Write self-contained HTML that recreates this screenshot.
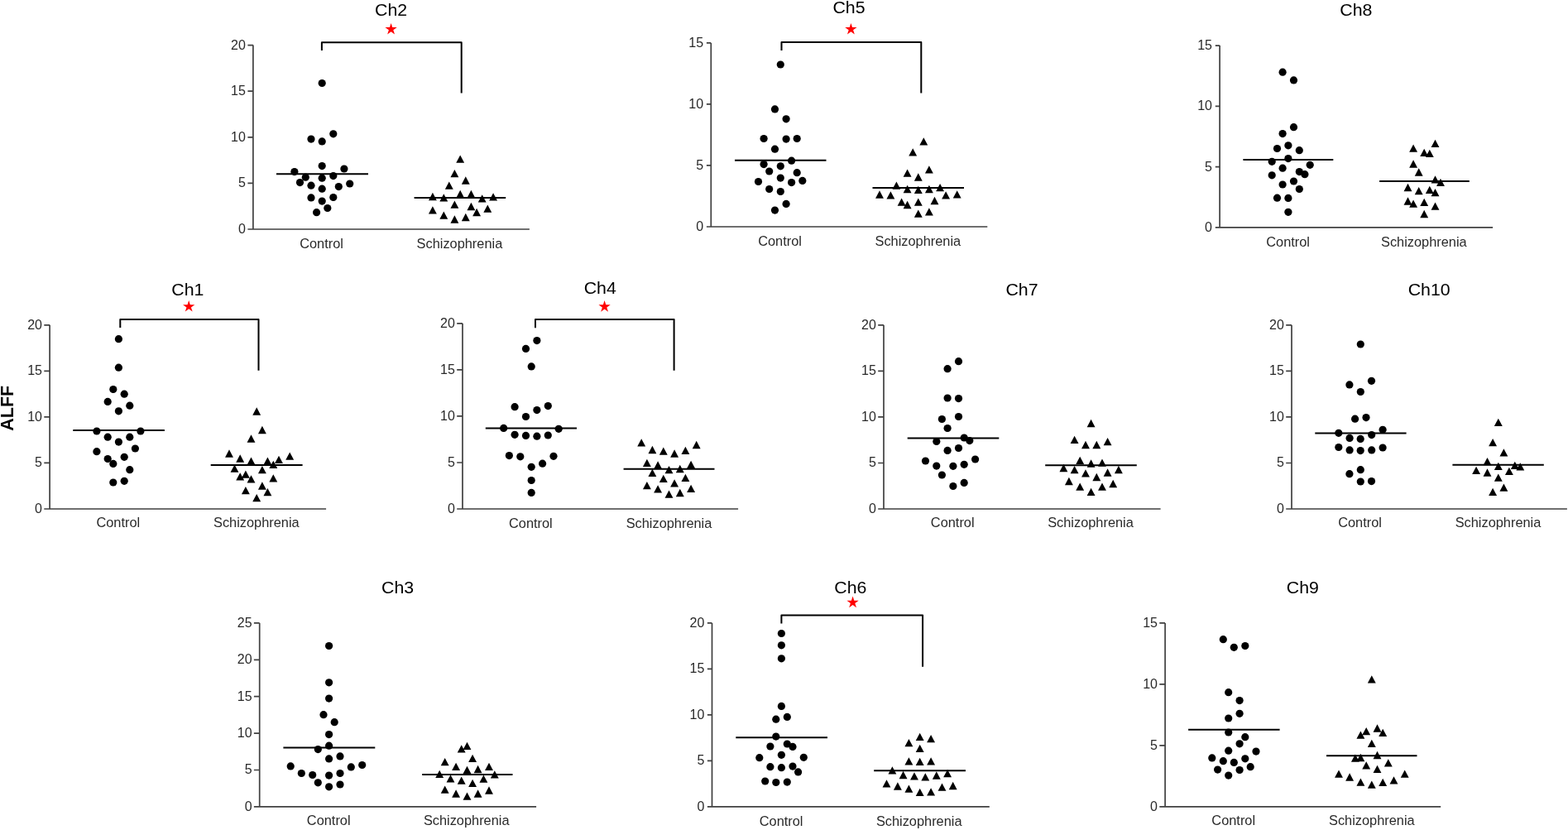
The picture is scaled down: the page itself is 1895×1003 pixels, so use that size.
<!DOCTYPE html>
<html><head><meta charset="utf-8"><title>ALFF by channel</title>
<style>
html,body{margin:0;padding:0;background:#fff;}
body{width:1895px;height:1003px;overflow:hidden;}
svg{display:block;}
text{font-family:"Liberation Sans",Arial,sans-serif;}
.tk{font-size:16.8px;fill:#2a2a2a;text-anchor:end;}
.cat{font-size:17px;fill:#2a2a2a;text-anchor:middle;}
.ti{font-size:21px;fill:#000;text-anchor:middle;}
.yl{font-size:21.5px;font-weight:bold;fill:#000;text-anchor:middle;}
</style></head><body>
<svg width="1895" height="1003" viewBox="0 0 1895 1003">
<rect width="100%" height="100%" fill="#fff"/>
<path d="M305.9 54.6 V277 M299.4 277 H639.9" fill="none" stroke="#404040" stroke-width="1.7"/>
<path d="M299.4 221.4 H305.9 M299.4 165.8 H305.9 M299.4 110.2 H305.9 M299.4 54.6 H305.9" fill="none" stroke="#404040" stroke-width="1.7"/>
<text transform="translate(296.8 281.9) scale(0.955 1)" class="tk">0</text>
<text transform="translate(296.8 226.3) scale(0.955 1)" class="tk">5</text>
<text transform="translate(296.8 170.7) scale(0.955 1)" class="tk">10</text>
<text transform="translate(296.8 115.1) scale(0.955 1)" class="tk">15</text>
<text transform="translate(296.8 59.5) scale(0.955 1)" class="tk">20</text>
<text transform="translate(388.5 299.5) scale(0.963 1)" class="cat">Control</text>
<text transform="translate(555.4 299.5) scale(0.963 1)" class="cat">Schizophrenia</text>
<text transform="translate(472.6 18.9) scale(1.015 1)" class="ti">Ch2</text>
<path d="M334 210.2 H445" stroke="#000" stroke-width="2.0"/>
<path d="M500.6 239.1 H611.2" stroke="#000" stroke-width="2.0"/>
<g fill="#000"><circle cx="389.2" cy="100.5" r="4.6"/><circle cx="376" cy="168.1" r="4.6"/><circle cx="389.2" cy="170.9" r="4.6"/><circle cx="402.8" cy="161.8" r="4.6"/><circle cx="389.2" cy="200.6" r="4.6"/><circle cx="355.9" cy="207.6" r="4.6"/><circle cx="415.9" cy="204" r="4.6"/><circle cx="369.3" cy="214.2" r="4.6"/><circle cx="389.2" cy="215.2" r="4.6"/><circle cx="402.8" cy="212.6" r="4.6"/><circle cx="362.5" cy="220.6" r="4.6"/><circle cx="376" cy="224.2" r="4.6"/><circle cx="389.2" cy="228.2" r="4.6"/><circle cx="409.3" cy="225.6" r="4.6"/><circle cx="422.7" cy="222" r="4.6"/><circle cx="376" cy="238.9" r="4.6"/><circle cx="402.8" cy="238.5" r="4.6"/><circle cx="389.2" cy="243.1" r="4.6"/><circle cx="395.8" cy="251.5" r="4.6"/><circle cx="382.6" cy="256.7" r="4.6"/></g>
<path fill="#000" d="M556.2 187.45L561.15 196.75H551.25ZM549.4 204.95L554.35 214.25H544.45ZM562.8 213.35L567.75 222.65H557.85ZM542.8 219.55L547.75 228.85H537.85ZM522.9 232.85L527.85 242.15H517.95ZM536.3 234.25L541.25 243.55H531.35ZM556.2 229.85L561.15 239.15H551.25ZM569.4 229.85L574.35 239.15H564.45ZM582.7 235.25L587.65 244.55H577.75ZM596.1 233.25L601.05 242.55H591.15ZM549.4 242.45L554.35 251.75H544.45ZM569.4 244.85L574.35 254.15H564.45ZM522.9 249.25L527.85 258.55H517.95ZM589.3 247.45L594.25 256.75H584.35ZM576.1 251.85L581.05 261.15H571.15ZM536.3 255.45L541.25 264.75H531.35ZM562.8 257.85L567.75 267.15H557.85ZM549.4 260.35L554.35 269.65H544.45Z"/>
<path d="M388.9 61 V51.2 H557.7 V112.6" fill="none" stroke="#000" stroke-width="2.0" stroke-linejoin="round"/>
<path fill="#f00" d="M472.6 27.9 L474.28 33.08 L479.73 33.08 L475.32 36.29 L477.01 41.47 L472.6 38.27 L468.19 41.47 L469.88 36.29 L465.47 33.08 L470.92 33.08 Z"/>
<path d="M859.3 51.9 V274 M853.9 274 H1193.3" fill="none" stroke="#404040" stroke-width="1.7"/>
<path d="M853.9 199.97 H859.3 M853.9 125.93 H859.3 M853.9 51.9 H859.3" fill="none" stroke="#404040" stroke-width="1.7"/>
<text transform="translate(850.2 278.9) scale(0.955 1)" class="tk">0</text>
<text transform="translate(850.2 204.87) scale(0.955 1)" class="tk">5</text>
<text transform="translate(850.2 130.83) scale(0.955 1)" class="tk">10</text>
<text transform="translate(850.2 56.8) scale(0.955 1)" class="tk">15</text>
<text transform="translate(942.5 297.3) scale(0.963 1)" class="cat">Control</text>
<text transform="translate(1109.3 297.3) scale(0.963 1)" class="cat">Schizophrenia</text>
<text transform="translate(1026 15.8) scale(1.015 1)" class="ti">Ch5</text>
<path d="M888 193.8 H998.5" stroke="#000" stroke-width="2.0"/>
<path d="M1054.5 227.1 H1165" stroke="#000" stroke-width="2.0"/>
<g fill="#000"><circle cx="943.3" cy="78" r="4.6"/><circle cx="936.5" cy="131.9" r="4.6"/><circle cx="950.1" cy="143.8" r="4.6"/><circle cx="923.1" cy="167.5" r="4.6"/><circle cx="950.1" cy="168.1" r="4.6"/><circle cx="963.2" cy="167.5" r="4.6"/><circle cx="936.5" cy="180.2" r="4.6"/><circle cx="956.6" cy="194.2" r="4.6"/><circle cx="923.1" cy="198.6" r="4.6"/><circle cx="943.3" cy="200.8" r="4.6"/><circle cx="929.7" cy="207" r="4.6"/><circle cx="963.2" cy="208.7" r="4.6"/><circle cx="943.3" cy="215.1" r="4.6"/><circle cx="916.5" cy="219.5" r="4.6"/><circle cx="956.6" cy="220.6" r="4.6"/><circle cx="969.8" cy="218.4" r="4.6"/><circle cx="929.7" cy="228.5" r="4.6"/><circle cx="943.3" cy="231.5" r="4.6"/><circle cx="950.1" cy="246.4" r="4.6"/><circle cx="936.5" cy="254.1" r="4.6"/></g>
<path fill="#000" d="M1116.3 166.15L1121.25 175.45H1111.35ZM1103.2 179.25L1108.15 188.55H1098.25ZM1096.6 204.55L1101.55 213.85H1091.65ZM1122.9 200.15L1127.85 209.45H1117.95ZM1109.8 209.35L1114.75 218.65H1104.85ZM1083.4 219.45L1088.35 228.75H1078.45ZM1096.6 223.85L1101.55 233.15H1091.65ZM1109.8 224.65L1114.75 233.95H1104.85ZM1122.9 223.85L1127.85 233.15H1117.95ZM1136.1 222.05L1141.05 231.35H1131.15ZM1063 230.35L1067.95 239.65H1058.05ZM1076.4 231.25L1081.35 240.55H1071.45ZM1143.1 231.25L1148.05 240.55H1138.15ZM1156.7 230.15L1161.65 239.45H1151.75ZM1089.6 239.55L1094.55 248.85H1084.65ZM1096.6 242.85L1101.55 252.15H1091.65ZM1109.8 239.55L1114.75 248.85H1104.85ZM1129.5 237.85L1134.45 247.15H1124.55ZM1109.8 253.45L1114.75 262.75H1104.85ZM1122.9 251.25L1127.85 260.55H1117.95Z"/>
<path d="M944.5 61 V51 H1113.3 V112.6" fill="none" stroke="#000" stroke-width="2.0" stroke-linejoin="round"/>
<path fill="#f00" d="M1028.4 27.9 L1030.08 33.08 L1035.53 33.08 L1031.12 36.29 L1032.81 41.47 L1028.4 38.27 L1023.99 41.47 L1025.68 36.29 L1021.27 33.08 L1026.72 33.08 Z"/>
<path d="M1474.1 55.1 V274.9 M1468.8 274.9 H1804.1" fill="none" stroke="#404040" stroke-width="1.7"/>
<path d="M1468.8 201.63 H1474.1 M1468.8 128.37 H1474.1 M1468.8 55.1 H1474.1" fill="none" stroke="#404040" stroke-width="1.7"/>
<text transform="translate(1465 279.8) scale(0.955 1)" class="tk">0</text>
<text transform="translate(1465 206.53) scale(0.955 1)" class="tk">5</text>
<text transform="translate(1465 133.27) scale(0.955 1)" class="tk">10</text>
<text transform="translate(1465 60) scale(0.955 1)" class="tk">15</text>
<text transform="translate(1556.6 297.5) scale(0.963 1)" class="cat">Control</text>
<text transform="translate(1720.8 297.5) scale(0.963 1)" class="cat">Schizophrenia</text>
<text transform="translate(1638.8 19.3) scale(1.015 1)" class="ti">Ch8</text>
<path d="M1502.4 192.9 H1611.3" stroke="#000" stroke-width="2.0"/>
<path d="M1667.1 219 H1775.8" stroke="#000" stroke-width="2.0"/>
<g fill="#000"><circle cx="1550.1" cy="87.2" r="4.6"/><circle cx="1563.5" cy="96.9" r="4.6"/><circle cx="1563.5" cy="153.7" r="4.6"/><circle cx="1550.1" cy="161.6" r="4.6"/><circle cx="1543.5" cy="179.5" r="4.6"/><circle cx="1556.9" cy="175.8" r="4.6"/><circle cx="1570.3" cy="181.7" r="4.6"/><circle cx="1537.2" cy="195.3" r="4.6"/><circle cx="1556.9" cy="191.6" r="4.6"/><circle cx="1583.2" cy="199.3" r="4.6"/><circle cx="1550.1" cy="203.2" r="4.6"/><circle cx="1570.3" cy="207.6" r="4.6"/><circle cx="1576.9" cy="210.7" r="4.6"/><circle cx="1537.2" cy="211.8" r="4.6"/><circle cx="1550.1" cy="223" r="4.6"/><circle cx="1563.5" cy="219" r="4.6"/><circle cx="1570.3" cy="228.5" r="4.6"/><circle cx="1543.5" cy="239.2" r="4.6"/><circle cx="1556.9" cy="239.4" r="4.6"/><circle cx="1556.9" cy="256.3" r="4.6"/></g>
<path fill="#000" d="M1734.5 168.65L1739.45 177.95H1729.55ZM1708.1 174.55L1713.05 183.85H1703.15ZM1721.2 179.75L1726.15 189.05H1716.25ZM1727.8 180.65L1732.75 189.95H1722.85ZM1708.1 193.35L1713.05 202.65H1703.15ZM1714.7 203.35L1719.65 212.65H1709.75ZM1734.5 212.15L1739.45 221.45H1729.55ZM1741 215.65L1745.95 224.95H1736.05ZM1701.5 221.85L1706.45 231.15H1696.55ZM1714.7 225.95L1719.65 235.25H1709.75ZM1727.8 224.65L1732.75 233.95H1722.85ZM1734.5 227.95L1739.45 237.25H1729.55ZM1701.5 238.35L1706.45 247.65H1696.55ZM1708.1 241.55L1713.05 250.85H1703.15ZM1721.2 239.65L1726.15 248.95H1716.25ZM1734.5 244.55L1739.45 253.85H1729.55ZM1721.2 253.85L1726.15 263.15H1716.25Z"/>
<path d="M60.1 392.8 V615 M53.3 615 H394.1" fill="none" stroke="#404040" stroke-width="1.7"/>
<path d="M53.3 559.45 H60.1 M53.3 503.9 H60.1 M53.3 448.35 H60.1 M53.3 392.8 H60.1" fill="none" stroke="#404040" stroke-width="1.7"/>
<text transform="translate(51 619.9) scale(0.955 1)" class="tk">0</text>
<text transform="translate(51 564.35) scale(0.955 1)" class="tk">5</text>
<text transform="translate(51 508.8) scale(0.955 1)" class="tk">10</text>
<text transform="translate(51 453.25) scale(0.955 1)" class="tk">15</text>
<text transform="translate(51 397.7) scale(0.955 1)" class="tk">20</text>
<text transform="translate(142.8 637.4) scale(0.963 1)" class="cat">Control</text>
<text transform="translate(309.8 637.4) scale(0.963 1)" class="cat">Schizophrenia</text>
<text transform="translate(226.8 356.8) scale(1.015 1)" class="ti">Ch1</text>
<path d="M88.3 519.9 H198.9" stroke="#000" stroke-width="2.0"/>
<path d="M254.7 561.9 H365.6" stroke="#000" stroke-width="2.0"/>
<g fill="#000"><circle cx="143.4" cy="409.7" r="4.6"/><circle cx="143.4" cy="444.2" r="4.6"/><circle cx="136.8" cy="470.5" r="4.6"/><circle cx="150.2" cy="476.2" r="4.6"/><circle cx="130.2" cy="485.4" r="4.6"/><circle cx="156.8" cy="490.2" r="4.6"/><circle cx="143.4" cy="496.8" r="4.6"/><circle cx="116.9" cy="521" r="4.6"/><circle cx="169.9" cy="521" r="4.6"/><circle cx="130.2" cy="528.2" r="4.6"/><circle cx="156.8" cy="528.2" r="4.6"/><circle cx="143.4" cy="534.1" r="4.6"/><circle cx="163.4" cy="542" r="4.6"/><circle cx="116.9" cy="545.7" r="4.6"/><circle cx="130.2" cy="554.5" r="4.6"/><circle cx="150.2" cy="552.3" r="4.6"/><circle cx="136.8" cy="560.4" r="4.6"/><circle cx="156.8" cy="567.7" r="4.6"/><circle cx="136.8" cy="583" r="4.6"/><circle cx="150.2" cy="581.3" r="4.6"/></g>
<path fill="#000" d="M310.2 492.35L315.15 501.65H305.25ZM316.9 514.85L321.85 524.15H311.95ZM303.5 525.35L308.45 534.65H298.55ZM277 543.35L281.95 552.65H272.05ZM290.2 549.35L295.15 558.65H285.25ZM303.5 552.55L308.45 561.85H298.55ZM323.4 552.55L328.35 561.85H318.45ZM337 550.65L341.95 559.95H332.05ZM350.2 546.55L355.15 555.85H345.25ZM330.3 556.65L335.25 565.95H325.35ZM283.5 561.45L288.45 570.75H278.55ZM316.9 562.95L321.85 572.25H311.95ZM296.9 568.55L301.85 577.85H291.95ZM290.2 571.25L295.15 580.55H285.25ZM303.5 574.15L308.45 583.45H298.55ZM330.3 573.25L335.25 582.55H325.35ZM316.9 582.35L321.85 591.65H311.95ZM296.9 588.05L301.85 597.35H291.95ZM323.4 590.05L328.35 599.35H318.45ZM310.2 597.05L315.15 606.35H305.25Z"/>
<path d="M145.3 396.1 V386.1 H312.5 V447.7" fill="none" stroke="#000" stroke-width="2.0" stroke-linejoin="round"/>
<path fill="#f00" d="M228.2 363 L229.88 368.18 L235.33 368.18 L230.92 371.39 L232.61 376.57 L228.2 373.37 L223.79 376.57 L225.48 371.39 L221.07 368.18 L226.52 368.18 Z"/>
<path d="M559 390.9 V615 M552.2 615 H892.1" fill="none" stroke="#404040" stroke-width="1.7"/>
<path d="M552.2 558.98 H559 M552.2 502.95 H559 M552.2 446.92 H559 M552.2 390.9 H559" fill="none" stroke="#404040" stroke-width="1.7"/>
<text transform="translate(549.9 619.9) scale(0.955 1)" class="tk">0</text>
<text transform="translate(549.9 563.88) scale(0.955 1)" class="tk">5</text>
<text transform="translate(549.9 507.85) scale(0.955 1)" class="tk">10</text>
<text transform="translate(549.9 451.82) scale(0.955 1)" class="tk">15</text>
<text transform="translate(549.9 395.8) scale(0.955 1)" class="tk">20</text>
<text transform="translate(641.4 638.3) scale(0.963 1)" class="cat">Control</text>
<text transform="translate(808.5 638.3) scale(0.963 1)" class="cat">Schizophrenia</text>
<text transform="translate(725.25 354.9) scale(1.015 1)" class="ti">Ch4</text>
<path d="M586.8 517.6 H697" stroke="#000" stroke-width="2.0"/>
<path d="M753.6 566.7 H863.5" stroke="#000" stroke-width="2.0"/>
<g fill="#000"><circle cx="648.9" cy="411.6" r="4.6"/><circle cx="635.5" cy="421.4" r="4.6"/><circle cx="642.2" cy="442.9" r="4.6"/><circle cx="622.1" cy="491.7" r="4.6"/><circle cx="648.9" cy="495.6" r="4.6"/><circle cx="662.3" cy="490.6" r="4.6"/><circle cx="635.5" cy="503.5" r="4.6"/><circle cx="608.7" cy="517.4" r="4.6"/><circle cx="675.2" cy="518.3" r="4.6"/><circle cx="622.1" cy="525.3" r="4.6"/><circle cx="635.5" cy="526.4" r="4.6"/><circle cx="648.9" cy="527.2" r="4.6"/><circle cx="662.3" cy="526" r="4.6"/><circle cx="615.4" cy="550.6" r="4.6"/><circle cx="628.8" cy="551.8" r="4.6"/><circle cx="642.2" cy="564.3" r="4.6"/><circle cx="655.6" cy="560.2" r="4.6"/><circle cx="669" cy="551.3" r="4.6"/><circle cx="642.2" cy="580.5" r="4.6"/><circle cx="642.2" cy="595.4" r="4.6"/></g>
<path fill="#000" d="M775.2 530.15L780.15 539.45H770.25ZM788.4 538.85L793.35 548.15H783.45ZM801.8 540.45L806.75 549.75H796.85ZM815.1 543.35L820.05 552.65H810.15ZM828.4 539.75L833.35 549.05H823.45ZM841.7 532.85L846.65 542.15H836.75ZM781.9 554.65L786.85 563.95H776.95ZM795.1 557.35L800.05 566.65H790.15ZM835.1 556.75L840.05 566.05H830.15ZM808.5 562.95L813.45 572.25H803.55ZM821.8 561.85L826.75 571.15H816.85ZM788.4 566.65L793.35 575.95H783.45ZM801.8 573.65L806.75 582.95H796.85ZM828.4 572.75L833.35 582.05H823.45ZM815.1 579.25L820.05 588.55H810.15ZM781.9 581.95L786.85 591.25H776.95ZM795.1 586.25L800.05 595.55H790.15ZM835.1 585.75L840.05 595.05H830.15ZM808.5 592.55L813.45 601.85H803.55ZM821.8 590.85L826.75 600.15H816.85Z"/>
<path d="M647 396.3 V386.1 H814.6 V447.7" fill="none" stroke="#000" stroke-width="2.0" stroke-linejoin="round"/>
<path fill="#f00" d="M730.6 363.1 L732.28 368.28 L737.73 368.28 L733.32 371.49 L735.01 376.67 L730.6 373.47 L726.19 376.67 L727.88 371.49 L723.47 368.28 L728.92 368.28 Z"/>
<path d="M1068 392.9 V615 M1061.2 615 H1402.6" fill="none" stroke="#404040" stroke-width="1.7"/>
<path d="M1061.2 559.48 H1068 M1061.2 503.95 H1068 M1061.2 448.42 H1068 M1061.2 392.9 H1068" fill="none" stroke="#404040" stroke-width="1.7"/>
<text transform="translate(1058.9 619.9) scale(0.955 1)" class="tk">0</text>
<text transform="translate(1058.9 564.38) scale(0.955 1)" class="tk">5</text>
<text transform="translate(1058.9 508.85) scale(0.955 1)" class="tk">10</text>
<text transform="translate(1058.9 453.32) scale(0.955 1)" class="tk">15</text>
<text transform="translate(1058.9 397.8) scale(0.955 1)" class="tk">20</text>
<text transform="translate(1151.2 637.4) scale(0.963 1)" class="cat">Control</text>
<text transform="translate(1318 637.4) scale(0.963 1)" class="cat">Schizophrenia</text>
<text transform="translate(1235 356.5) scale(1.015 1)" class="ti">Ch7</text>
<path d="M1096.7 529.5 H1207.3" stroke="#000" stroke-width="2.0"/>
<path d="M1263.2 562.2 H1373.8" stroke="#000" stroke-width="2.0"/>
<g fill="#000"><circle cx="1158.5" cy="436.7" r="4.6"/><circle cx="1145.1" cy="445.7" r="4.6"/><circle cx="1145.1" cy="481" r="4.6"/><circle cx="1158.5" cy="481.6" r="4.6"/><circle cx="1138.4" cy="506.5" r="4.6"/><circle cx="1158.5" cy="503.5" r="4.6"/><circle cx="1145.1" cy="517.5" r="4.6"/><circle cx="1165.2" cy="529" r="4.6"/><circle cx="1171.8" cy="532.6" r="4.6"/><circle cx="1131.8" cy="533.5" r="4.6"/><circle cx="1145.1" cy="544.4" r="4.6"/><circle cx="1158.5" cy="541.5" r="4.6"/><circle cx="1118.5" cy="557" r="4.6"/><circle cx="1131.8" cy="563.1" r="4.6"/><circle cx="1151.9" cy="563.3" r="4.6"/><circle cx="1165.2" cy="561.3" r="4.6"/><circle cx="1178.6" cy="555" r="4.6"/><circle cx="1138.4" cy="574" r="4.6"/><circle cx="1151.9" cy="587.5" r="4.6"/><circle cx="1165.2" cy="583.4" r="4.6"/></g>
<path fill="#000" d="M1318.6 506.85L1323.55 516.15H1313.65ZM1298.6 526.65L1303.55 535.95H1293.65ZM1312 532.85L1316.95 542.15H1307.05ZM1325.3 532.85L1330.25 542.15H1320.35ZM1338.6 529.05L1343.55 538.35H1333.65ZM1305.2 551.65L1310.15 560.95H1300.25ZM1318.6 555.35L1323.55 564.65H1313.65ZM1332 554.55L1336.95 563.85H1327.05ZM1285.4 560.85L1290.35 570.15H1280.45ZM1298.6 563.05L1303.55 572.35H1293.65ZM1312 567.15L1316.95 576.45H1307.05ZM1338.6 566.35L1343.55 575.65H1333.65ZM1351.9 562.85L1356.85 572.15H1346.95ZM1325.3 571.85L1330.25 581.15H1320.35ZM1291.9 576.85L1296.85 586.15H1286.95ZM1305.2 583.45L1310.15 592.75H1300.25ZM1332 583.45L1336.95 592.75H1327.05ZM1345.2 579.85L1350.15 589.15H1340.25ZM1318.6 589.65L1323.55 598.95H1313.65Z"/>
<path d="M1561 392.9 V615 M1554.2 615 H1893.9" fill="none" stroke="#404040" stroke-width="1.7"/>
<path d="M1554.2 559.48 H1561 M1554.2 503.95 H1561 M1554.2 448.42 H1561 M1554.2 392.9 H1561" fill="none" stroke="#404040" stroke-width="1.7"/>
<text transform="translate(1551.9 619.9) scale(0.955 1)" class="tk">0</text>
<text transform="translate(1551.9 564.38) scale(0.955 1)" class="tk">5</text>
<text transform="translate(1551.9 508.85) scale(0.955 1)" class="tk">10</text>
<text transform="translate(1551.9 453.32) scale(0.955 1)" class="tk">15</text>
<text transform="translate(1551.9 397.8) scale(0.955 1)" class="tk">20</text>
<text transform="translate(1643.5 637.4) scale(0.963 1)" class="cat">Control</text>
<text transform="translate(1810.5 637.4) scale(0.963 1)" class="cat">Schizophrenia</text>
<text transform="translate(1727.15 356.5) scale(1.015 1)" class="ti">Ch10</text>
<path d="M1589.3 523.5 H1699.6" stroke="#000" stroke-width="2.0"/>
<path d="M1755.4 561.8 H1865.8" stroke="#000" stroke-width="2.0"/>
<g fill="#000"><circle cx="1644.3" cy="416" r="4.6"/><circle cx="1630.9" cy="464.9" r="4.6"/><circle cx="1657.5" cy="460.3" r="4.6"/><circle cx="1644.3" cy="473.5" r="4.6"/><circle cx="1637.6" cy="506.2" r="4.6"/><circle cx="1651" cy="504.6" r="4.6"/><circle cx="1617.8" cy="523.3" r="4.6"/><circle cx="1671.1" cy="519.3" r="4.6"/><circle cx="1631.1" cy="529.4" r="4.6"/><circle cx="1644.2" cy="530.4" r="4.6"/><circle cx="1657.7" cy="525.6" r="4.6"/><circle cx="1617.8" cy="540.5" r="4.6"/><circle cx="1631.1" cy="543.9" r="4.6"/><circle cx="1644.2" cy="544.6" r="4.6"/><circle cx="1657.7" cy="543.9" r="4.6"/><circle cx="1671.1" cy="541" r="4.6"/><circle cx="1630.9" cy="572.7" r="4.6"/><circle cx="1644.3" cy="567.7" r="4.6"/><circle cx="1644.3" cy="582" r="4.6"/><circle cx="1657.5" cy="581.6" r="4.6"/></g>
<path fill="#000" d="M1810.8 505.65L1815.75 514.95H1805.85ZM1804.1 529.95L1809.05 539.25H1799.15ZM1817.4 542.15L1822.35 551.45H1812.45ZM1797.5 552.95L1802.45 562.25H1792.55ZM1810.8 558.65L1815.75 567.95H1805.85ZM1830.8 557.75L1835.75 567.05H1825.85ZM1837.3 559.25L1842.25 568.55H1832.35ZM1784.1 563.75L1789.05 573.05H1779.15ZM1797.5 566.35L1802.45 575.65H1792.55ZM1823.9 564.65L1828.85 573.95H1818.95ZM1810.8 572.45L1815.75 581.75H1805.85ZM1817.4 584.45L1822.35 593.75H1812.45ZM1804.1 589.65L1809.05 598.95H1799.15Z"/>
<path d="M313.7 752.9 V974.9 M306.9 974.9 H648.1" fill="none" stroke="#404040" stroke-width="1.7"/>
<path d="M306.9 930.5 H313.7 M306.9 886.1 H313.7 M306.9 841.7 H313.7 M306.9 797.3 H313.7 M306.9 752.9 H313.7" fill="none" stroke="#404040" stroke-width="1.7"/>
<text transform="translate(304.6 979.8) scale(0.955 1)" class="tk">0</text>
<text transform="translate(304.6 935.4) scale(0.955 1)" class="tk">5</text>
<text transform="translate(304.6 891) scale(0.955 1)" class="tk">10</text>
<text transform="translate(304.6 846.6) scale(0.955 1)" class="tk">15</text>
<text transform="translate(304.6 802.2) scale(0.955 1)" class="tk">20</text>
<text transform="translate(304.6 757.8) scale(0.955 1)" class="tk">25</text>
<text transform="translate(397.2 997.2) scale(0.963 1)" class="cat">Control</text>
<text transform="translate(563.7 997.2) scale(0.963 1)" class="cat">Schizophrenia</text>
<text transform="translate(480.6 716.5) scale(1.015 1)" class="ti">Ch3</text>
<path d="M342.4 903.6 H453.3" stroke="#000" stroke-width="2.0"/>
<path d="M510.2 936 H619.5" stroke="#000" stroke-width="2.0"/>
<g fill="#000"><circle cx="397.6" cy="780.5" r="4.6"/><circle cx="397.6" cy="824.8" r="4.6"/><circle cx="397.6" cy="844.1" r="4.6"/><circle cx="391" cy="863.7" r="4.6"/><circle cx="404.2" cy="872.7" r="4.6"/><circle cx="397.6" cy="887.6" r="4.6"/><circle cx="397.6" cy="901.2" r="4.6"/><circle cx="384.3" cy="905.6" r="4.6"/><circle cx="397.6" cy="916.9" r="4.6"/><circle cx="411" cy="913.9" r="4.6"/><circle cx="351.2" cy="925.9" r="4.6"/><circle cx="364.3" cy="934.5" r="4.6"/><circle cx="377.7" cy="936.5" r="4.6"/><circle cx="397.6" cy="937.1" r="4.6"/><circle cx="411" cy="934.5" r="4.6"/><circle cx="424.3" cy="926.9" r="4.6"/><circle cx="437.7" cy="924.5" r="4.6"/><circle cx="384.3" cy="945.8" r="4.6"/><circle cx="397.6" cy="950.8" r="4.6"/><circle cx="411" cy="948" r="4.6"/></g>
<path fill="#000" d="M564.5 896.75L569.45 906.05H559.55ZM557.7 900.15L562.65 909.45H552.75ZM571.1 911.65L576.05 920.95H566.15ZM537.7 915.95L542.65 925.25H532.75ZM551.1 921.65L556.05 930.95H546.15ZM564.5 925.65L569.45 934.95H559.55ZM577.6 924.85L582.55 934.15H572.65ZM591 921.65L595.95 930.95H586.05ZM531.2 930.65L536.15 939.95H526.25ZM597.8 931.25L602.75 940.55H592.85ZM544.5 936.15L549.45 945.45H539.55ZM557.7 938.45L562.65 947.75H552.75ZM571.1 941.65L576.05 950.95H566.15ZM584.4 936.45L589.35 945.75H579.45ZM537.7 949.55L542.65 958.85H532.75ZM551.1 954.35L556.05 963.65H546.15ZM564.5 957.55L569.45 966.85H559.55ZM577.6 954.35L582.55 963.65H572.65ZM591 950.35L595.95 959.65H586.05Z"/>
<path d="M860.5 752.9 V974.9 M854.9 974.9 H1195.8" fill="none" stroke="#404040" stroke-width="1.7"/>
<path d="M854.9 919.4 H860.5 M854.9 863.9 H860.5 M854.9 808.4 H860.5 M854.9 752.9 H860.5" fill="none" stroke="#404040" stroke-width="1.7"/>
<text transform="translate(851.4 979.8) scale(0.955 1)" class="tk">0</text>
<text transform="translate(851.4 924.3) scale(0.955 1)" class="tk">5</text>
<text transform="translate(851.4 868.8) scale(0.955 1)" class="tk">10</text>
<text transform="translate(851.4 813.3) scale(0.955 1)" class="tk">15</text>
<text transform="translate(851.4 757.8) scale(0.955 1)" class="tk">20</text>
<text transform="translate(944.1 998.1) scale(0.963 1)" class="cat">Control</text>
<text transform="translate(1110.7 998.1) scale(0.963 1)" class="cat">Schizophrenia</text>
<text transform="translate(1027.85 716.8) scale(1.015 1)" class="ti">Ch6</text>
<path d="M889.3 891.2 H1000" stroke="#000" stroke-width="2.0"/>
<path d="M1056.2 931.3 H1167" stroke="#000" stroke-width="2.0"/>
<g fill="#000"><circle cx="944.4" cy="765.5" r="4.6"/><circle cx="944.4" cy="779.8" r="4.6"/><circle cx="944.4" cy="795.8" r="4.6"/><circle cx="944.4" cy="853.4" r="4.6"/><circle cx="937.8" cy="869.2" r="4.6"/><circle cx="951.3" cy="866.4" r="4.6"/><circle cx="937.8" cy="890.1" r="4.6"/><circle cx="930.9" cy="902" r="4.6"/><circle cx="951.3" cy="899" r="4.6"/><circle cx="958" cy="902.4" r="4.6"/><circle cx="917.8" cy="915.7" r="4.6"/><circle cx="944.4" cy="912.3" r="4.6"/><circle cx="971.3" cy="915.3" r="4.6"/><circle cx="930.9" cy="926.7" r="4.6"/><circle cx="944.4" cy="927.7" r="4.6"/><circle cx="958" cy="926.1" r="4.6"/><circle cx="964.6" cy="932.9" r="4.6"/><circle cx="924.7" cy="944" r="4.6"/><circle cx="937.8" cy="945.5" r="4.6"/><circle cx="951.3" cy="945.1" r="4.6"/></g>
<path fill="#000" d="M1111.7 885.65L1116.65 894.95H1106.75ZM1125.1 888.05L1130.05 897.35H1120.15ZM1098.4 893.05L1103.35 902.35H1093.45ZM1111.7 899.75L1116.65 909.05H1106.75ZM1098.4 915.25L1103.35 924.55H1093.45ZM1111.7 915.75L1116.65 925.05H1106.75ZM1125.1 915.25L1130.05 924.55H1120.15ZM1078.4 926.25L1083.35 935.55H1073.45ZM1091.6 931.85L1096.55 941.15H1086.65ZM1105 933.25L1109.95 942.55H1100.05ZM1118.3 934.15L1123.25 943.45H1113.35ZM1131.8 932.35L1136.75 941.65H1126.85ZM1145.1 930.05L1150.05 939.35H1140.15ZM1071.5 942.15L1076.45 951.45H1066.55ZM1084.9 945.35L1089.85 954.65H1079.95ZM1098.4 948.45L1103.35 957.75H1093.45ZM1111.7 952.65L1116.65 961.95H1106.75ZM1125.1 952.25L1130.05 961.55H1120.15ZM1138.5 946.45L1143.45 955.75H1133.55ZM1151.7 944.85L1156.65 954.15H1146.75Z"/>
<path d="M944.4 753.4 V743.6 H1115.1 V805.8" fill="none" stroke="#000" stroke-width="2.0" stroke-linejoin="round"/>
<path fill="#f00" d="M1030.6 720.6 L1032.28 725.78 L1037.73 725.78 L1033.32 728.99 L1035.01 734.17 L1030.6 730.97 L1026.19 734.17 L1027.88 728.99 L1023.47 725.78 L1028.92 725.78 Z"/>
<path d="M1408.1 752.9 V974.9 M1401.3 974.9 H1741.2" fill="none" stroke="#404040" stroke-width="1.7"/>
<path d="M1401.3 900.9 H1408.1 M1401.3 826.9 H1408.1 M1401.3 752.9 H1408.1" fill="none" stroke="#404040" stroke-width="1.7"/>
<text transform="translate(1399 979.8) scale(0.955 1)" class="tk">0</text>
<text transform="translate(1399 905.8) scale(0.955 1)" class="tk">5</text>
<text transform="translate(1399 831.8) scale(0.955 1)" class="tk">10</text>
<text transform="translate(1399 757.8) scale(0.955 1)" class="tk">15</text>
<text transform="translate(1490.7 997.2) scale(0.963 1)" class="cat">Control</text>
<text transform="translate(1657.8 997.2) scale(0.963 1)" class="cat">Schizophrenia</text>
<text transform="translate(1574.35 716.5) scale(1.015 1)" class="ti">Ch9</text>
<path d="M1436.1 881.8 H1546.6" stroke="#000" stroke-width="2.0"/>
<path d="M1603 913.2 H1712.5" stroke="#000" stroke-width="2.0"/>
<g fill="#000"><circle cx="1478.3" cy="772.7" r="4.6"/><circle cx="1491.3" cy="782.3" r="4.6"/><circle cx="1504.8" cy="780.5" r="4.6"/><circle cx="1484.7" cy="836.7" r="4.6"/><circle cx="1498.1" cy="846.6" r="4.6"/><circle cx="1498.1" cy="862.3" r="4.6"/><circle cx="1484.7" cy="868" r="4.6"/><circle cx="1484.7" cy="885" r="4.6"/><circle cx="1504.8" cy="890.7" r="4.6"/><circle cx="1498.1" cy="898.8" r="4.6"/><circle cx="1484.7" cy="907.2" r="4.6"/><circle cx="1518" cy="908.1" r="4.6"/><circle cx="1464.8" cy="915.9" r="4.6"/><circle cx="1478.3" cy="919.7" r="4.6"/><circle cx="1491.3" cy="921.4" r="4.6"/><circle cx="1504.8" cy="916.8" r="4.6"/><circle cx="1511.2" cy="926.7" r="4.6"/><circle cx="1471.6" cy="930.1" r="4.6"/><circle cx="1498.1" cy="930.5" r="4.6"/><circle cx="1484.7" cy="937.1" r="4.6"/></g>
<path fill="#000" d="M1657.8 816.15L1662.75 825.45H1652.85ZM1651.2 878.95L1656.15 888.25H1646.25ZM1664.5 875.35L1669.45 884.65H1659.55ZM1644.4 883.45L1649.35 892.75H1639.45ZM1671.2 880.65L1676.15 889.95H1666.25ZM1657.8 893.65L1662.75 902.95H1652.85ZM1637.9 911.55L1642.85 920.85H1632.95ZM1644.4 910.85L1649.35 920.15H1639.45ZM1664.5 907.85L1669.45 917.15H1659.55ZM1651.2 920.25L1656.15 929.55H1646.25ZM1677.8 917.25L1682.75 926.55H1672.85ZM1664.5 924.65L1669.45 933.95H1659.55ZM1618 930.55L1622.95 939.85H1613.05ZM1631.1 934.35L1636.05 943.65H1626.15ZM1644.4 940.45L1649.35 949.75H1639.45ZM1657.8 943.45L1662.75 952.75H1652.85ZM1671.2 940.75L1676.15 950.05H1666.25ZM1684.5 938.25L1689.45 947.55H1679.55ZM1697.7 930.55L1702.65 939.85H1692.75Z"/>
<text class="yl" transform="translate(15.9 493.3) rotate(-90)">ALFF</text>
</svg>
</body></html>
